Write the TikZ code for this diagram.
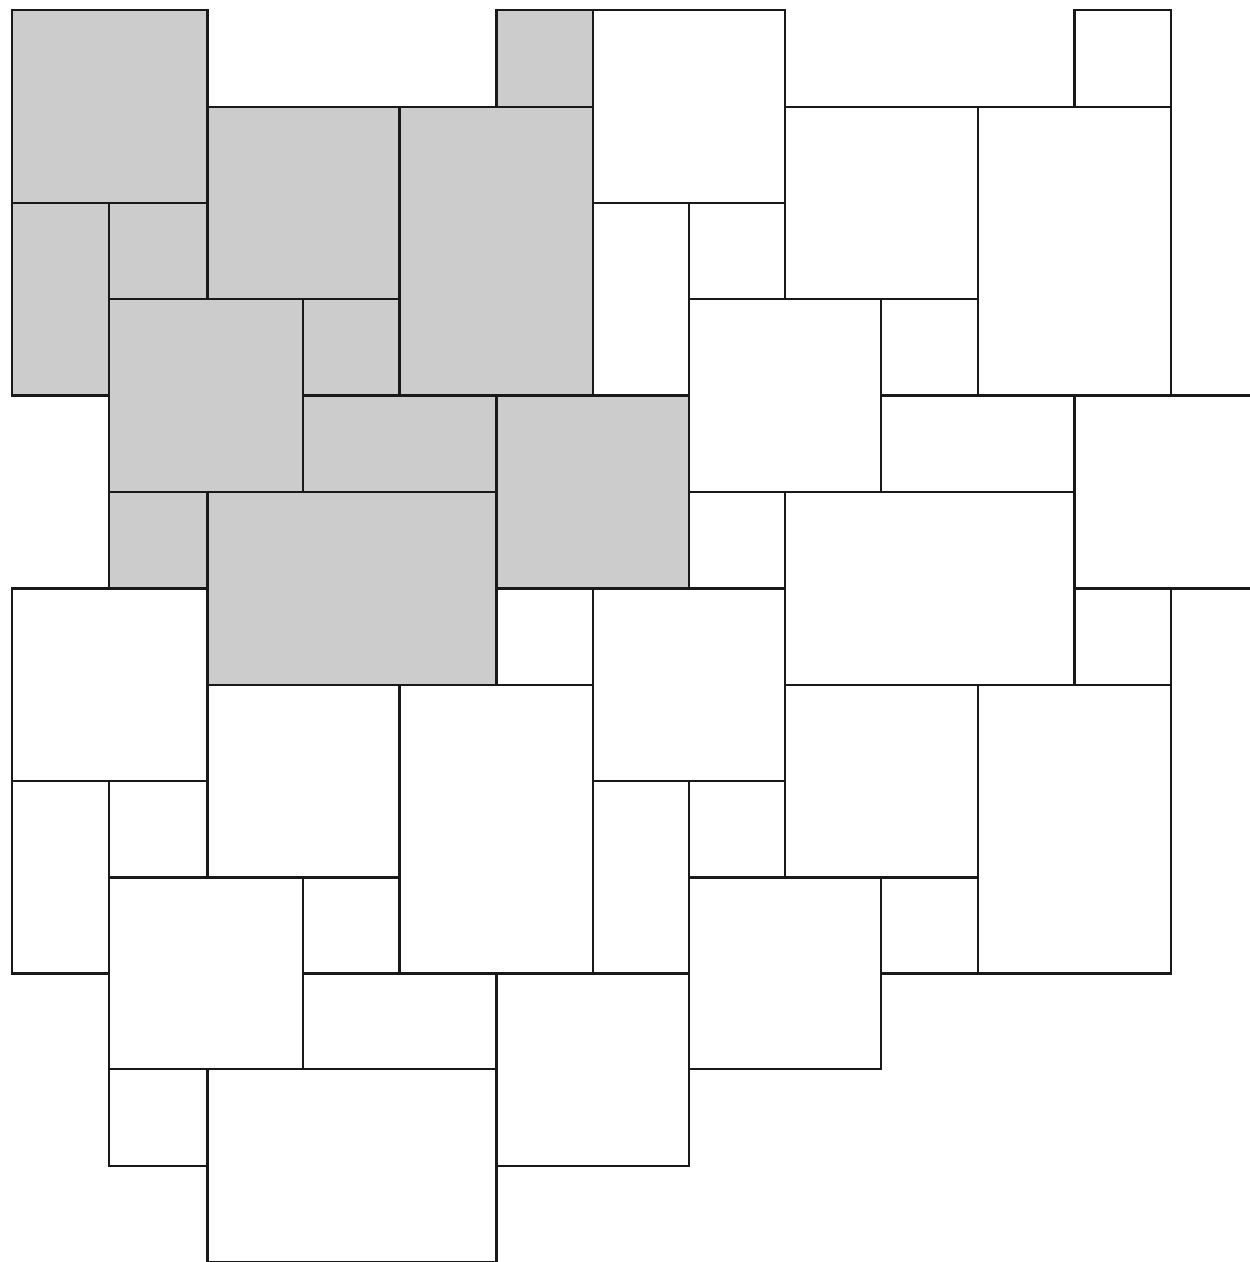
\documentclass[tikz,border=0pt]{standalone}
\definecolor{stone}{RGB}{204,204,204}
\definecolor{edge}{RGB}{25,25,25}
\tikzset{
  tileline/.style={draw=edge, line width=1.25pt, line join=miter, line cap=rect},
  tilefill/.style={fill=stone}
}
% grid positions (pixels of the reference)
\def\gx#1{\ifcase#1 12\or 109\or 207.5\or 303\or 399.5\or 496.5\or 593\or 689\or 785\or 881\or 978\or 1074.5\or 1171\or 1268\fi}
\def\gy#1{\ifcase#1 10\or 107\or 203\or 299\or 395.5\or 492\or 588.5\or 685\or 781\or 877.5\or 973.5\or 1069\or 1166\or 1262\fi}
% one tile: offset col, offset row, col, row, width, height, style
\newcommand{\tileat}[7]{%
  \pgfmathtruncatemacro\ca{#1+#3}%
  \pgfmathtruncatemacro\cb{#1+#3+#5}%
  \pgfmathtruncatemacro\ra{#2+#4}%
  \pgfmathtruncatemacro\rb{#2+#4+#6}%
  \path[#7] ({\gx{\ca}},{\gy{\ra}}) rectangle ({\gx{\cb}},{\gy{\rb}});%
}
\newcommand{\unitlist}{0/0/2/2,0/2/1/2,1/2/1/1,2/1/2/2,4/1/2/3,5/0/1/1,1/3/2/2,3/3/1/1,3/4/2/1,5/4/2/2,1/5/1/1,2/5/3/2}
\newcommand{\partlist}{0/0/2/2,0/2/1/2,1/2/1/1,2/1/2/2,4/1/2/3,5/0/1/1,1/3/2/2,3/3/1/1}
\begin{document}
\begin{tikzpicture}[x=0.02cm,y=-0.02cm]
\useasboundingbox (0,0) rectangle (1250,1262);
\clip (0,0) rectangle (1250,1262);
\fill[white] (0,0) rectangle (1250,1262);
% shaded repeat unit (fill only)
\foreach \i/\j/\w/\h in \unitlist {\tileat{0}{0}{\i}{\j}{\w}{\h}{tilefill}}
% outlines of all tiles
\foreach \i/\j/\w/\h in \unitlist {\tileat{0}{0}{\i}{\j}{\w}{\h}{tileline}}
\foreach \i/\j/\w/\h in \unitlist {\tileat{6}{0}{\i}{\j}{\w}{\h}{tileline}}
\foreach \i/\j/\w/\h in \unitlist {\tileat{0}{6}{\i}{\j}{\w}{\h}{tileline}}
\foreach \i/\j/\w/\h in \partlist {\tileat{6}{6}{\i}{\j}{\w}{\h}{tileline}}
\end{tikzpicture}
\end{document}
